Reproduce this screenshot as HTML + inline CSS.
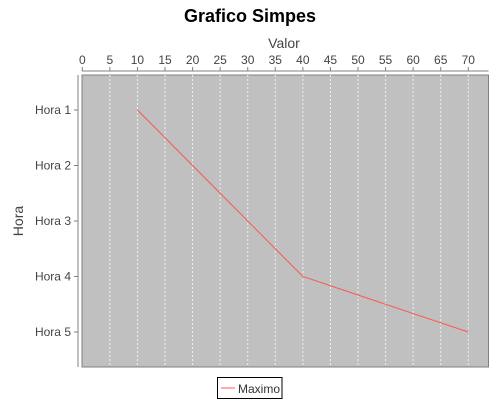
<!DOCTYPE html>
<html><head><meta charset="utf-8"><style>
body{margin:0;background:#fff;font-family:"Liberation Sans",sans-serif;}
</style></head><body>
<svg width="500" height="400" xmlns="http://www.w3.org/2000/svg">
<text x="250" y="22" text-anchor="middle" font-size="18" font-weight="bold" fill="#000">Grafico Simpes</text>
<text x="284" y="48" text-anchor="middle" font-size="14" fill="#444">Valor</text>
<text x="23" y="221" text-anchor="middle" font-size="14" fill="#444" transform="rotate(-90 23 221)">Hora</text>
<rect x="82" y="75" width="406.5" height="292" fill="#c0c0c0" stroke="#808080"/>
<g id="grid"></g>
<line x1="82" y1="71" x2="488.5" y2="71" stroke="#808080"/>
<line x1="78" y1="75" x2="78" y2="367" stroke="#808080"/>
<g id="ticks"></g>
<polyline id="series" fill="none" stroke="#ff5555" stroke-width="1"/>
<g>
<rect x="217.5" y="377.5" width="64.5" height="21" fill="#fff" stroke="#000"/>
<line x1="221" y1="388" x2="235" y2="388" stroke="#ff5555"/>
<text x="238" y="393" font-size="12" fill="#333">Maximo</text>
</g>
</svg>
<script>
const categories=["Hora 1","Hora 2","Hora 3","Hora 4","Hora 5"];
const values=[10,20,30,40,70];
const xTicks=[0,5,10,15,20,25,30,35,40,45,50,55,60,65,70];
const NS="http://www.w3.org/2000/svg";
const x=v=>82.3+v*5.514;
const y=i=>110+i*55.5;
const g=document.getElementById('grid'),t=document.getElementById('ticks');
xTicks.forEach(v=>{
 const l=document.createElementNS(NS,'line');
 
 
 l.setAttribute('x1',x(v));l.setAttribute('x2',x(v));l.setAttribute('y1',75);l.setAttribute('y2',367);
 l.setAttribute('stroke','#f0f0f0');l.setAttribute('stroke-dasharray','2,2');
 if(v>0)g.appendChild(l);
 const k=document.createElementNS(NS,'line');
 
 
 k.setAttribute('x1',x(v));k.setAttribute('x2',x(v));k.setAttribute('y1',67);k.setAttribute('y2',71);k.setAttribute('stroke','#808080');
 t.appendChild(k);
 const s=document.createElementNS(NS,'text');
 
 
 s.setAttribute('x',x(v));s.setAttribute('y',64);s.setAttribute('text-anchor','middle');s.setAttribute('font-size','12');s.setAttribute('fill','#444');
 s.textContent=v;t.appendChild(s);
});
categories.forEach((c,i)=>{
 const k=document.createElementNS(NS,'line');
 
 
 k.setAttribute('x1',74);k.setAttribute('x2',78);k.setAttribute('y1',y(i));k.setAttribute('y2',y(i));k.setAttribute('stroke','#808080');
 t.appendChild(k);
 const s=document.createElementNS(NS,'text');
 
 
 s.setAttribute('x',71);s.setAttribute('y',y(i)+4);s.setAttribute('text-anchor','end');s.setAttribute('font-size','12');s.setAttribute('fill','#444');
 s.textContent=c;t.appendChild(s);
});
document.getElementById('series').setAttribute('points',values.map((v,i)=>x(v)+','+y(i)).join(' '));
</script>
</body></html>
